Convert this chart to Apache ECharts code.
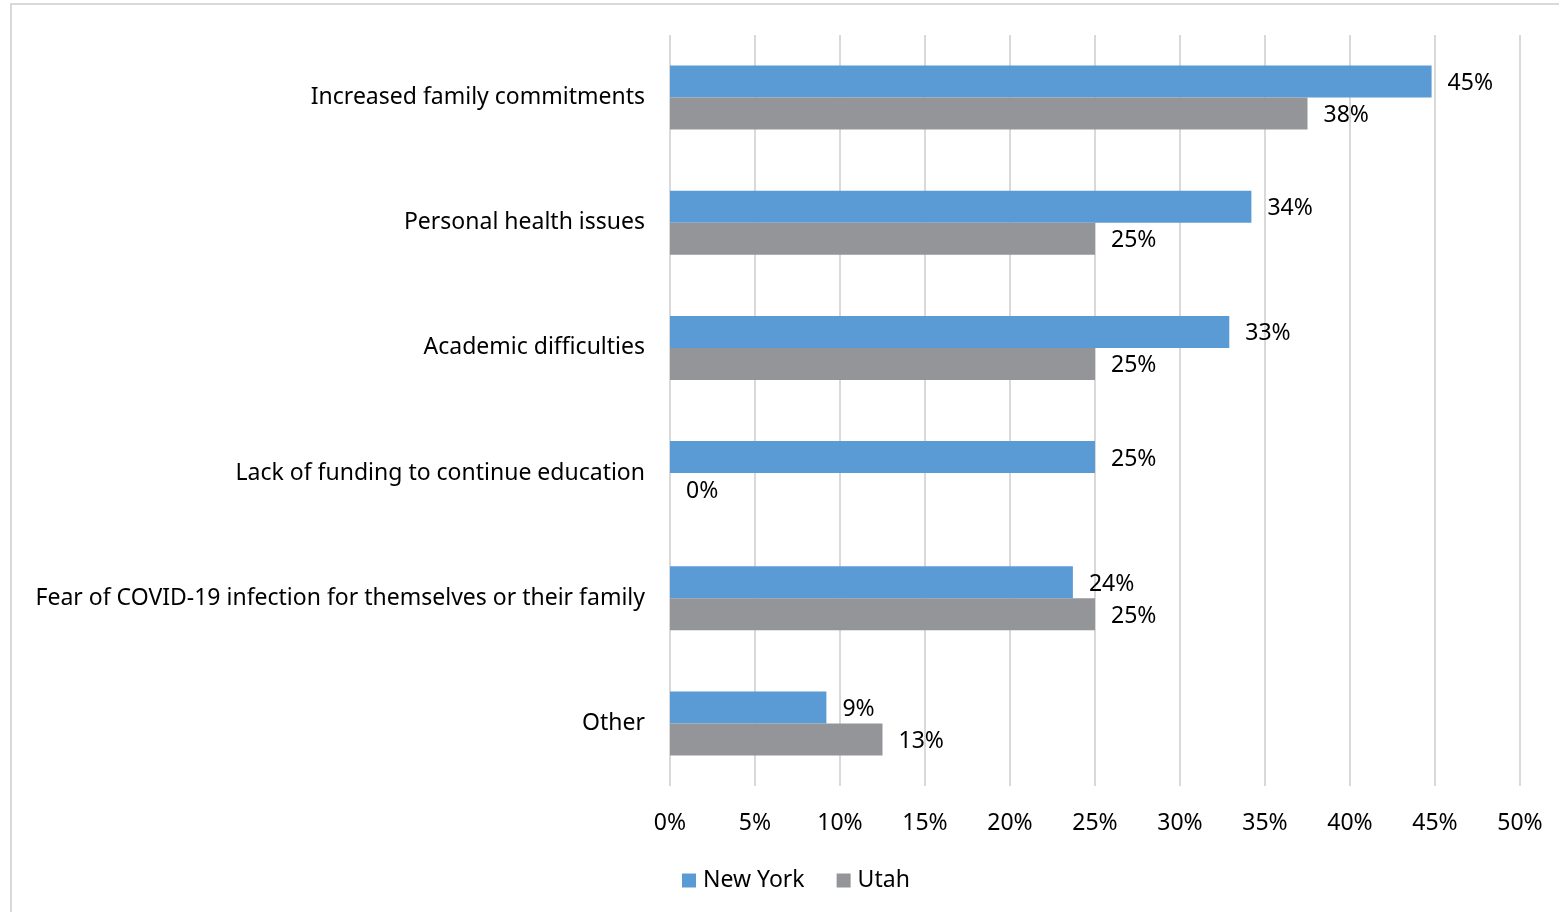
<!DOCTYPE html>
<html>
<head>
<meta charset="utf-8">
<script src="https://cdn.jsdelivr.net/npm/echarts@6/dist/echarts.min.js"></script>
<style>
  html, body { margin: 0; padding: 0; background: #fff; }
  #chart { width: 1559px; height: 912px; }
</style>
</head>
<body>
<div id="chart"></div>
<script>
var categories = [
    'Increased family commitments',
    'Personal health issues',
    'Academic difficulties',
    'Lack of funding to continue education',
    'Fear of COVID-19 infection for themselves or their family',
    'Other'
];
var newYork = [44.8, 34.2, 32.9, 25.0, 23.7, 9.2];
var utah = [37.5, 25.0, 25.0, 0, 25.0, 12.5];

var fontName = 'Noto Sans';

var chart = echarts.init(document.getElementById('chart'));

function pct(p) {
    return Math.round(p.value) + '%';
}

var option = {
    animation: false,
    textStyle: { fontFamily: fontName },
    graphic: [
        {
            type: 'rect',
            shape: { x: 11, y: 4, width: 1700, height: 1000 },
            style: { fill: 'none', stroke: '#d9d9d9', lineWidth: 2 },
            silent: true
        }
    ],
    grid: {
        left: 670,
        right: 39,
        top: 35,
        bottom: 126
    },
    legend: {
        left: 677,
        top: 864,
        itemWidth: 14,
        itemHeight: 14,
        itemGap: 32,
        icon: 'rect',
        textStyle: { fontSize: 23, color: '#000', fontFamily: fontName, padding: [0, 0, 0, 2] },
        data: ['New York', 'Utah']
    },
    xAxis: {
        type: 'value',
        min: 0,
        max: 50,
        interval: 5,
        axisLine: { show: false },
        axisTick: { show: false },
        splitLine: { lineStyle: { color: '#d9d9d9', width: 2 } },
        axisLabel: {
            margin: 26,
            fontSize: 23,
            color: '#000',
            formatter: '{value}%'
        }
    },
    yAxis: {
        type: 'category',
        inverse: true,
        data: categories,
        axisLine: { show: false },
        axisTick: { show: false },
        axisLabel: {
            margin: 25,
            fontSize: 23,
            color: '#000',
            padding: [2, 0, 0, 0]
        }
    },
    series: [
        {
            name: 'New York',
            type: 'bar',
            barWidth: 32,
            barGap: '0%',
            itemStyle: { color: '#5b9bd5' },
            label: {
                show: true,
                position: 'right',
                distance: 16,
                offset: [0, 2],
                fontSize: 23,
                color: '#000',
                formatter: pct
            },
            data: newYork
        },
        {
            name: 'Utah',
            type: 'bar',
            barWidth: 32,
            barGap: '0%',
            itemStyle: { color: '#939598' },
            label: {
                show: true,
                position: 'right',
                distance: 16,
                offset: [0, 2],
                fontSize: 23,
                color: '#000',
                formatter: pct
            },
            data: utah
        }
    ]
};

chart.setOption(option);
</script>
</body>
</html>
